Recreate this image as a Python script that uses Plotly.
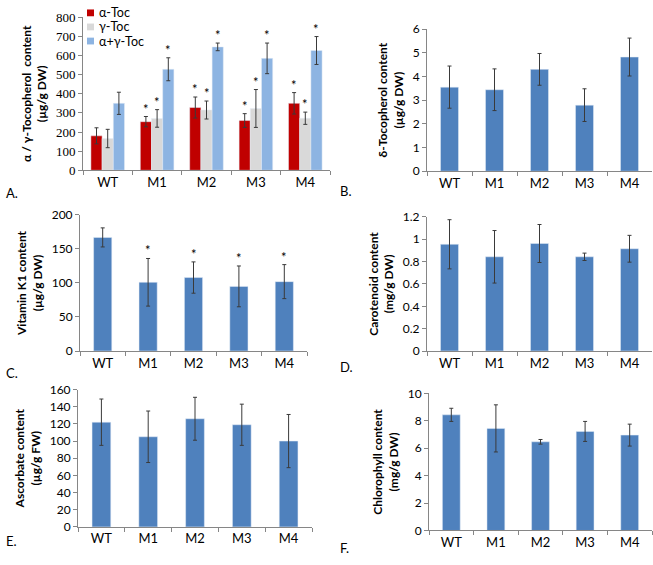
import plotly.graph_objects as go

categories = ["WT", "M1", "M2", "M3", "M4"]

# Panel A
series_names = ["α-Toc", "γ-Toc", "α+γ-Toc"]
alpha_toc = [180, 254, 328, 260, 350]
alpha_err = [42, 27, 55, 36, 56]
gamma_toc = [166, 271, 315, 323, 272]
gamma_err = [48, 46, 47, 99, 32]
sum_toc = [350, 528, 645, 585, 626]
sum_err = [58, 60, 20, 80, 73]
sig_alpha = [False, True, True, True, True]
sig_gamma = [False, True, True, True, True]
sig_sum = [False, True, True, True, True]

# Panel B
delta_toc = [3.55, 3.44, 4.30, 2.79, 4.82]
delta_err = [0.89, 0.88, 0.67, 0.69, 0.80]

# Panel C
vitk1 = [167, 101, 108, 95, 102]
vitk1_err = [14, 35, 23, 30, 25]
sig_vitk1 = [False, True, True, True, True]

# Panel D
carot = [0.955, 0.843, 0.962, 0.843, 0.915]
carot_err = [0.22, 0.235, 0.17, 0.033, 0.12]

# Panel E
ascorb = [122, 105, 126, 119, 100]
ascorb_err = [27, 30, 25, 24, 31]

# Panel F
chloro = [8.44, 7.45, 6.47, 7.23, 6.96]
chloro_err = [0.48, 1.72, 0.17, 0.73, 0.80]

W, H = 653, 565
RED = "#C00000"
GREY = "#D9D9D9"
LBLUE = "#8DB4E2"
BLUE = "#4F81BD"
AXC = "#868686"
ERRC = "#3A3A3A"
SANS = "Lato, Open Sans, Arial, sans-serif"
SERIF = "Times New Roman, Liberation Serif, DejaVu Serif, serif"
GROUP_GAP = 0.32
SINGLE_WIDTH = 0.4

fig = go.Figure()

def px_x(a, b):
    return [a / W, b / W]

def px_y(bottom, top):
    return [1 - bottom / H, 1 - top / H]

panels = {
    "1": (px_x(83, 330), px_y(167, 9.5), [0, 800], 100,
          "α / γ-Tocopherol  content<br>(µg/g DW)", SERIF),
    "2": (px_x(427, 652), px_y(168, 21.7), [0, 6], 1,
          "δ-Tocopherol content<br>(µg/g DW)", SANS),
    "3": (px_x(80, 307), px_y(353, 213), [0, 200], 50,
          "Vitamin K1 content<br>(µg/g DW)", SANS),
    "4": (px_x(427, 652), px_y(353, 215), [0, 1.2], 0.2,
          "Carotenoid content<br>(mg/g DW)", SANS),
    "5": (px_x(78, 312), px_y(534, 392.7), [0, 160], 20,
          "Ascorbate content<br>(µg/g FW)", SANS),
    "6": (px_x(429, 652), px_y(537.7, 396.7), [0, 10], 2,
          "Chlorophyll content<br>(mg/g DW)", SANS),
}

def eb(arr):
    return dict(type="data", array=arr, visible=True, color=ERRC, thickness=1, width=2)

group_colors = [RED, GREY, LBLUE]
group_vals = [alpha_toc, gamma_toc, sum_toc]
group_errs = [alpha_err, gamma_err, sum_err]
for name, col, vals, errs in zip(series_names, group_colors, group_vals, group_errs):
    fig.add_trace(go.Bar(x=categories, y=vals, name=name, marker_color=col,
                         error_y=eb(errs), xaxis="x", yaxis="y", showlegend=False))

singles = [("2", delta_toc, delta_err), ("3", vitk1, vitk1_err), ("4", carot, carot_err),
           ("5", ascorb, ascorb_err), ("6", chloro, chloro_err)]
for k, vals, errs in singles:
    fig.add_trace(go.Bar(x=categories, y=vals, marker_color=BLUE, error_y=eb(errs),
                         showlegend=False, xaxis="x" + k, yaxis="y" + k,
                         width=SINGLE_WIDTH))

layout = dict(width=W, height=H, margin=dict(l=0, r=0, t=0, b=0),
              paper_bgcolor="white", plot_bgcolor="white",
              barmode="group", bargap=GROUP_GAP, bargroupgap=0, showlegend=False,
              font=dict(family=SANS, color="#000000"))

for k, (xd, yd, rng, dt, title, tfont) in panels.items():
    xa = "xaxis" if k == "1" else "xaxis" + k
    ya = "yaxis" if k == "1" else "yaxis" + k
    yanchor = "y" if k == "1" else "y" + k
    xanchor = "x" if k == "1" else "x" + k
    layout[xa] = dict(domain=xd, anchor=yanchor, type="category", showline=True,
                      linecolor=AXC, linewidth=1, ticks="outside", tickson="boundaries",
                      ticklen=4, tickcolor=AXC, showgrid=False, zeroline=False,
                      tickfont=dict(family=SANS, size=13, color="#000000"))
    layout[ya] = dict(domain=yd, anchor=xanchor, range=rng, dtick=dt, showline=True,
                      linecolor=AXC, linewidth=1, ticks="outside", ticklen=4,
                      tickcolor=AXC, showgrid=False, zeroline=False,
                      tickfont=dict(family=tfont, size=13 if k == "1" else 12,
                                    color="#000000"),
                      title=dict(text="<b>" + title + "</b>", standoff=6,
                                 font=dict(family=SANS, size=12, color="#000000")))

fig.update_layout(**layout)

annotations = []
shapes = []
cat_px = (330 - 83) / len(categories)
bar_px = cat_px * (1 - GROUP_GAP) / 3
sigs = [sig_alpha, sig_gamma, sig_sum]
for i, (vals, errs, sig) in enumerate(zip(group_vals, group_errs, sigs)):
    shift = i - 1
    for c, v, e, s in zip(categories, vals, errs, sig):
        if s:
            annotations.append(dict(x=c, y=v + e, xref="x", yref="y", text="*",
                                    showarrow=False, yanchor="bottom", xshift=shift * bar_px,
                                    yshift=-2,
                                    font=dict(family=SANS, size=13, color="#000000")))
for c, v, e, s in zip(categories, vitk1, vitk1_err, sig_vitk1):
    if s:
        annotations.append(dict(x=c, y=v + e, xref="x3", yref="y3", text="*",
                                showarrow=False, yanchor="bottom", yshift=-2,
                                font=dict(family=SANS, size=13, color="#000000")))

# Legend for panel A (inside the plot, top-left)
for i, (name, col) in enumerate(zip(series_names, group_colors)):
    cy = 5 + i * 14.5
    shapes.append(dict(type="rect", xref="paper", yref="paper",
                       x0=87 / W, x1=94 / W, y0=1 - (cy + 3.5) / H, y1=1 - (cy - 3.5) / H,
                       fillcolor=col, line=dict(width=0)))
    annotations.append(dict(x=97 / W, y=1 - cy / H, xref="paper", yref="paper", text=name,
                            showarrow=False, xanchor="left", yanchor="middle",
                            font=dict(family=SANS, size=12.5, color="#000000")))

labels = [("A.", 4, 190), ("B.", 338, 188), ("C.", 4, 376), ("D.", 338, 369),
          ("E.", 4, 549), ("F.", 338, 556)]
for t, xp, yp in labels:
    annotations.append(dict(x=xp / W, y=1 - yp / H, xref="paper", yref="paper", text=t,
                            showarrow=False, xanchor="left", yanchor="middle",
                            font=dict(family=SANS, size=13, color="#000000")))
fig.update_layout(annotations=annotations, shapes=shapes)

fig.write_html("out.html", config={"displayModeBar": False},
               post_script="document.body.style.margin='0';"
                           "document.body.style.overflow='hidden';"
                           "document.documentElement.style.overflow='hidden';")
